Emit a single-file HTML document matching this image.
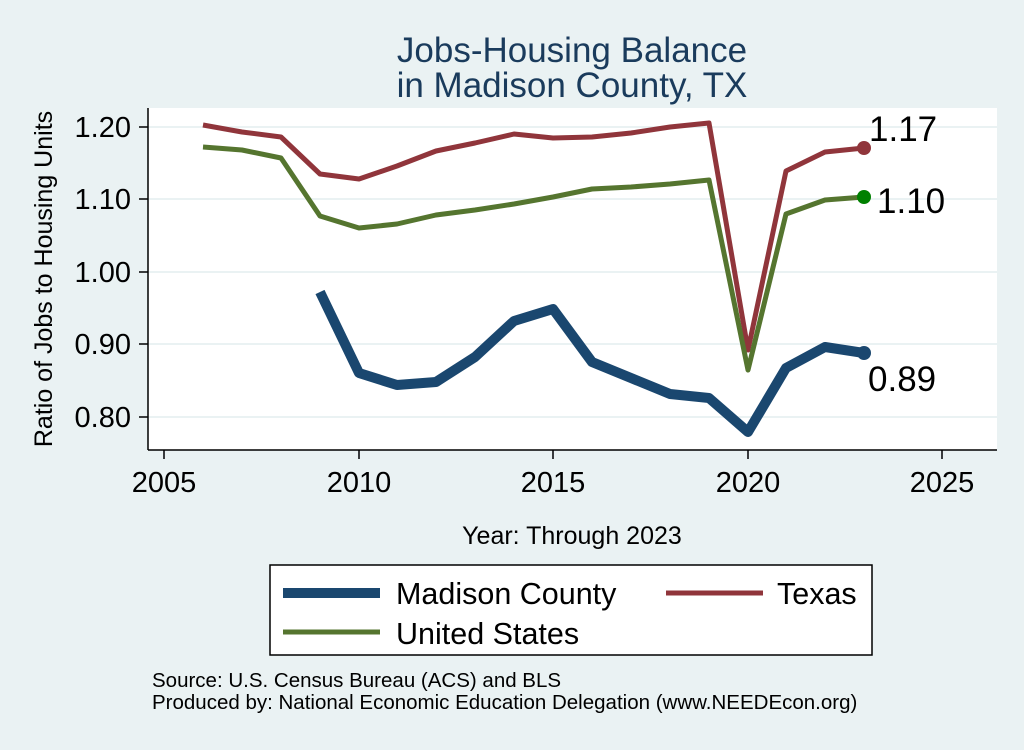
<!DOCTYPE html>
<html><head><meta charset="utf-8"><style>body{margin:0;background:#eaf2f3}</style></head><body>
<svg width="1024" height="745" xmlns="http://www.w3.org/2000/svg" font-family="Liberation Sans, sans-serif">
<rect width="1024" height="745" fill="#eaf2f3"/>
<rect x="148" y="108" width="849" height="342" fill="#fff"/>
<g stroke="#eaf2f3" stroke-width="2">
<line x1="148" x2="997" y1="127" y2="127"/><line x1="148" x2="997" y1="199" y2="199"/>
<line x1="148" x2="997" y1="272" y2="272"/><line x1="148" x2="997" y1="344" y2="344"/>
<line x1="148" x2="997" y1="417" y2="417"/></g>
<g stroke="#000" stroke-width="1.5">
<line x1="148" y1="108" x2="148" y2="450"/><line x1="148" y1="450" x2="997" y2="450"/>
<line x1="139" x2="148" y1="127" y2="127"/><line x1="139" x2="148" y1="199" y2="199"/>
<line x1="139" x2="148" y1="272" y2="272"/><line x1="139" x2="148" y1="344" y2="344"/>
<line x1="139" x2="148" y1="417" y2="417"/>
<line x1="164" x2="164" y1="450" y2="459"/><line x1="359" x2="359" y1="450" y2="459"/>
<line x1="553" x2="553" y1="450" y2="459"/><line x1="748" x2="748" y1="450" y2="459"/>
<line x1="942" x2="942" y1="450" y2="459"/></g>
<g font-size="29" text-anchor="end">
<text x="131" y="137">1.20</text><text x="131" y="209">1.10</text><text x="131" y="282">1.00</text>
<text x="131" y="354">0.90</text><text x="131" y="427">0.80</text></g>
<g font-size="29" text-anchor="middle">
<text x="164" y="492">2005</text><text x="359" y="492">2010</text><text x="553" y="492">2015</text>
<text x="748" y="492">2020</text><text x="942" y="492">2025</text></g>
<text transform="translate(52,279) rotate(-90)" font-size="25" text-anchor="middle">Ratio of Jobs to Housing Units</text>
<text x="572" y="544" font-size="25" text-anchor="middle">Year: Through 2023</text>
<g font-size="35" fill="#1a3b5c" text-anchor="middle"><text x="572" y="62">Jobs-Housing Balance</text><text x="572" y="97">in Madison County, TX</text></g>
<g fill="none" stroke-linejoin="round">
<polyline stroke="#90353b" stroke-width="5" points="203,125 242,132 281,137 320,174 359,179 397,166 436,151 475,143 514,134 553,138 592,137 631,133 670,127 709,123 748,350 786,171 825,152 864,148"/>
<polyline stroke="#55752f" stroke-width="5" points="203,147 242,150 281,158 320,216 359,228 397,224 436,215 475,210 514,204 553,197 592,189 631,187 670,184 709,180 748,370 786,214 825,200 864,197"/>
<polyline stroke="#1a476f" stroke-width="10" points="320,292 359,373 397,385 436,382 475,357 514,321 553,309 592,362 631,378 670,394 709,398 748,432 786,368 825,347 864,353"/>
</g>
<circle cx="864" cy="148" r="7" fill="#90353b"/><circle cx="864" cy="197" r="7" fill="#008000"/><circle cx="864" cy="353" r="7" fill="#1a476f"/>
<g font-size="35"><text x="869" y="141">1.17</text><text x="877" y="213">1.10</text><text x="868" y="391">0.89</text></g>
<rect x="270" y="565" width="602" height="90" fill="#fff" stroke="#000" stroke-width="1.5"/>
<line x1="283" x2="380" y1="593" y2="593" stroke="#1a476f" stroke-width="10"/>
<line x1="666" x2="763" y1="593" y2="593" stroke="#90353b" stroke-width="5"/>
<line x1="283" x2="380" y1="632" y2="632" stroke="#55752f" stroke-width="5"/>
<g font-size="30.5"><text x="396" y="604">Madison County</text><text x="777" y="604">Texas</text><text x="396" y="644">United States</text></g>
<g font-size="20.5"><text x="152" y="687">Source: U.S. Census Bureau (ACS) and BLS</text><text x="152" y="709">Produced by: National Economic Education Delegation (www.NEEDEcon.org)</text></g>
</svg></body></html>
